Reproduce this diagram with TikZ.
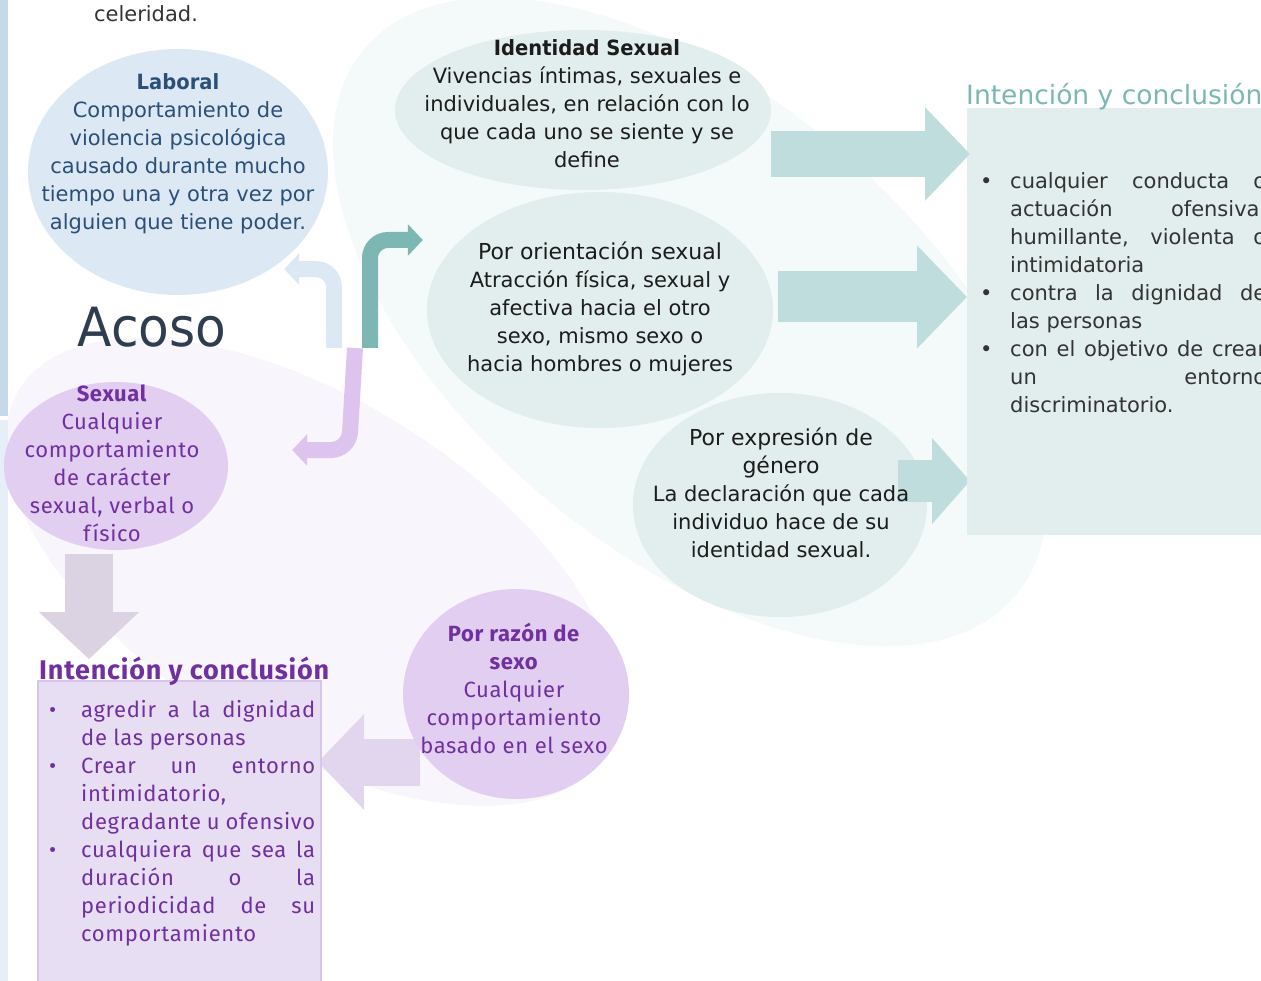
\documentclass[tikz,border=0pt]{standalone}
\usepackage{fontspec}
\setmainfont{DejaVu Sans}[BoldFeatures={FakeStretch=0.93}]
\newfontfamily\firafont{Fira Sans}[LetterSpace=3]
\newfontfamily\acosofont{DejaVu Sans}[FakeStretch=0.93]
\usetikzlibrary{shapes.geometric,arrows.meta,positioning}

\definecolor{barblue}{HTML}{C6D9EB}
\definecolor{barlight}{HTML}{E6EEF7}
\definecolor{tealblob}{HTML}{F4F9F9}
\definecolor{lilablob}{HTML}{F8F5FC}
\definecolor{labfill}{HTML}{DDE8F5}
\definecolor{labtext}{HTML}{2B5078}
\definecolor{tealfill}{HTML}{E2EEEE}
\definecolor{tealarrow}{HTML}{C0DDDD}
\definecolor{tealbent}{HTML}{7DB7B4}
\definecolor{tealtitle}{HTML}{7AB7B3}
\definecolor{bluebent}{HTML}{DCE8F4}
\definecolor{lilafill}{HTML}{E1CEF0}
\definecolor{lilabent}{HTML}{DCC4EE}
\definecolor{lilabox}{HTML}{E8DEF4}
\definecolor{lilaline}{HTML}{D7C6EB}
\definecolor{lilaarrow}{HTML}{E2D5EE}
\definecolor{grayarrow}{HTML}{DCD3E2}
\definecolor{purpletxt}{HTML}{7030A0}
\definecolor{acosotxt}{HTML}{2E3D50}
\definecolor{darktxt}{HTML}{1C1C1C}
\definecolor{boxtxt}{HTML}{333333}

% bullet with hanging indent
\newcommand{\bul}[1]{\par\hangindent=#1\hangafter=1\noindent\makebox[#1][l]{\textbullet}}

\begin{document}
\begin{tikzpicture}[
x=1pt, y=-1pt,
bubble/.style={
  ellipse,
  draw=none,
  inner sep=0pt
  },
txt/.style={
  align=center,
  inner sep=0pt,
  text=darktxt,
  font=\fontsize{21}{28}\selectfont
  },
ptxt/.style={
  align=center,
  inner sep=0pt,
  text=purpletxt,
  font=\firafont\fontsize{22}{28}\selectfont
  },
bent/.style={
  line width=16pt,
  rounded corners=18pt,
  -{Triangle[width=31pt,length=15pt]}
  },
block/.style={
  line width=#1
  }
]
\useasboundingbox (0,0) rectangle (1261,981);
\clip (0,0) rectangle (1261,981);

% background blobs
\fill[tealblob] (690,322) ellipse [x radius=425pt, y radius=228pt, rotate=-40];
\fill[lilablob] (312,572) ellipse [x radius=345pt, y radius=172pt, rotate=-32];
\fill[barblue] (0,0) rectangle (8,416);
\fill[barlight] (0,420) rectangle (8,981);

\node[txt, text=boxtxt, anchor=base] (cel) at (146,22) {celeridad.};

% bubbles
\node[bubble, fill=labfill, minimum width=300pt, minimum height=246pt] (lab) at (178,172) {};
\node[txt, text=labtext] (labt) at (178,154)
  {\textbf{Laboral}\\Comportamiento de\\violencia psicológica\\causado durante mucho\\tiempo una y otra vez por\\alguien que tiene poder.};

\node[bubble, fill=tealfill, minimum width=376pt, minimum height=160pt] (ident) at (583,110) {};
\node[txt] (identt) at (587,104)
  {\textbf{Identidad Sexual}\\Vivencias íntimas, sexuales e\\individuales, en relación con lo\\que cada uno se siente y se\\define};

\node[bubble, fill=tealfill, minimum width=346pt, minimum height=236pt] (orient) at (600,310) {};
\node[txt] (orientt) at (600,309)
  {{\fontsize{22}{28}\selectfont Por orientación sexual}\\Atracción física, sexual y\\afectiva hacia el otro\\sexo, mismo sexo o\\hacia hombres o mujeres};

\node[bubble, fill=tealfill, minimum width=294pt, minimum height=224pt] (expres) at (780,505) {};
% third arrow sits under the text
\coordinate (a3) at ([shift={(-29,-24)}]expres.east);
\draw[block=42pt, tealarrow, -{Triangle[width=84pt,length=38pt]}] (a3) -- ([xshift=3pt]a3 -| 967,0);
\node[txt] (expromt) at (781,493)
  {{\fontsize{22}{28}\selectfont Por expresión de}\\{\fontsize{22}{28}\selectfont género}\\La declaración que cada\\individuo hace de su\\identidad sexual.};

\node[bubble, fill=lilafill, minimum width=224pt, minimum height=168pt] (sexual) at (116,466) {};
\node[ptxt] (sexualt) at (112,463)
  {\textbf{Sexual}\\Cualquier\\comportamiento\\de carácter\\sexual, verbal o\\físico};

\coordinate (a4) at (420,762);
\draw[block=47pt, lilaarrow, -{Triangle[width=93pt,length=46pt]}] (a4) -- ([xshift=-2pt]a4 -| 320,0);
\node[bubble, fill=lilafill, minimum width=226pt, minimum height=210pt] (razon) at (516,694) {};
\node[ptxt] (razont) at (514,688)
  {\textbf{Por razón de}\\\textbf{sexo}\\Cualquier\\comportamiento\\basado en el sexo};

\node[anchor=base, inner sep=0pt, text=acosotxt, font=\acosofont\fontsize{54}{60}\selectfont] (acoso) at (152,347) {Acoso};

% boxes
\node[anchor=north west, fill=tealfill, minimum width=300pt, minimum height=427pt, inner sep=0pt] (boxt) at (967,108) {};
\node[anchor=base west, inner sep=0pt, text=tealtitle, font=\fontsize{26.5}{30}\selectfont] (boxtt) at (966,105) {Intención y conclusión};
\node[anchor=north west, inner sep=0pt, text width=286pt, align=justify, text=boxtxt, font=\fontsize{21}{28}\selectfont] (boxtl) at (980,160)
  {\hbadness=10000
   \bul{30pt}cualquier conducta o\linebreak actuación ofensiva,\linebreak humillante, violenta o\linebreak intimidatoria
   \bul{30pt}contra la dignidad de\linebreak las personas
   \bul{30pt}con el objetivo de crear\linebreak un entorno\linebreak discriminatorio.\par};

\node[anchor=north west, fill=lilabox, draw=lilaline, line width=1.5pt, minimum width=283pt, minimum height=320pt, inner sep=0pt] (boxp) at (37,680) {};
\node[anchor=base west, inner sep=0pt, text=purpletxt, font=\firafont\bfseries\fontsize{27}{30}\selectfont] (boxpt) at (39,679) {Intención y conclusión};
\node[anchor=north west, inner sep=0pt, text width=266pt, align=justify, text=purpletxt, font=\firafont\fontsize{22}{28}\selectfont] (boxpl) at (49,689)
  {\hbadness=10000
   \bul{32pt}agredir a la dignidad\linebreak de las personas
   \bul{32pt}Crear un entorno\linebreak intimidatorio,\newline degradante u ofensivo
   \bul{32pt}cualquiera que sea la\linebreak duración o la\linebreak periodicidad de su\linebreak comportamiento\par};

% bent arrows out of Acoso
\coordinate (hub) at (352,348);
\draw[bent, tealbent] ([xshift=18pt]hub) |- ([shift={(-4,-70)}]orient.west);
\draw[bent, bluebent] ([xshift=-18pt]hub) |- ([yshift=-10pt]lab.south east);
\draw[bent, lilabent] ([xshift=3pt]hub) -- (349,450) -- ([shift={(64,-16)}]sexual.east);

% block arrows to the boxes
\coordinate (a1) at ([yshift=-44pt]ident.east);
\coordinate (a2) at ([shift={(5,-13)}]orient.east);
\draw[block=46pt, tealarrow, -{Triangle[width=91pt,length=45pt]}] (a1) -- ([xshift=3pt]a1 -| boxt.west);
\draw[block=51pt, tealarrow, -{Triangle[width=100pt,length=50pt]}] (a2) -- (a2 -| boxt.west);

\draw[block=48pt, grayarrow, -{Triangle[width=97pt,length=47pt]}] ([shift={(-27,4)}]sexual.south) -- ++(0,105);
\end{tikzpicture}
\end{document}
